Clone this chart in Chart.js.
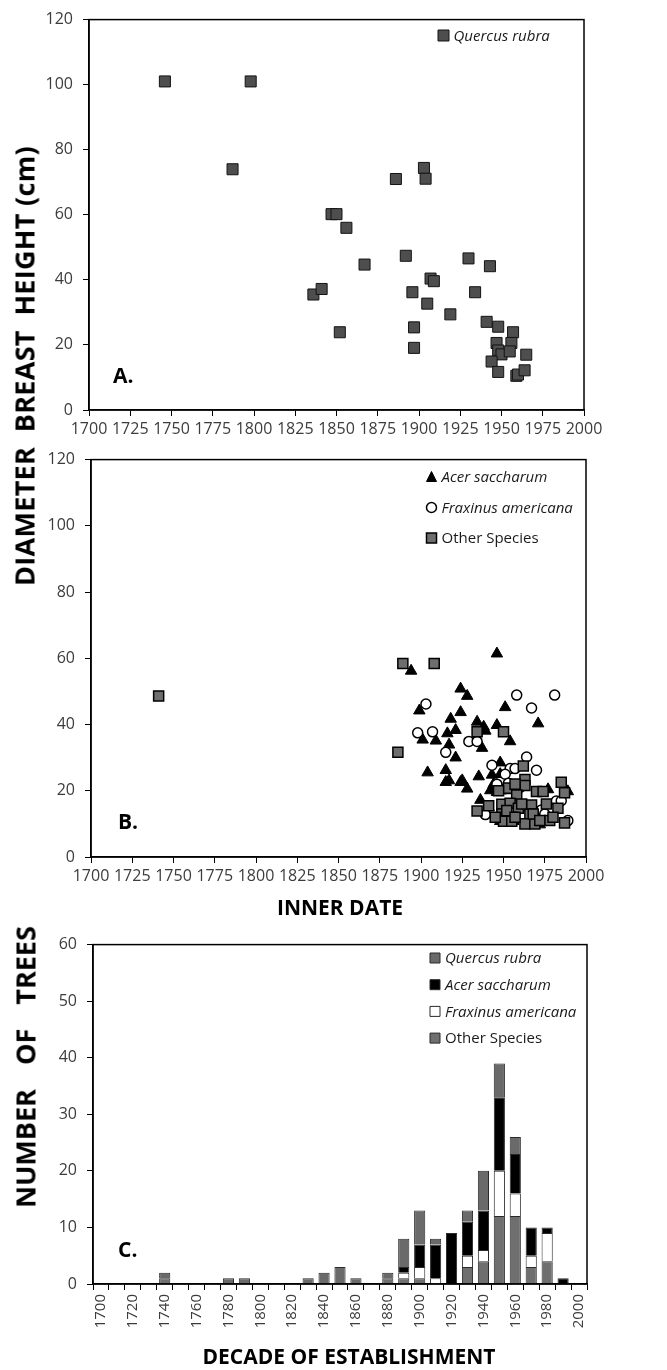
<!DOCTYPE html>
<html>
<head>
<meta charset="utf-8">
<script src="https://cdn.jsdelivr.net/npm/chart.js@4.4.0/dist/chart.umd.min.js"></script>
<style>
  body { margin: 0; background: #fff; width: 667px; height: 1370px; position: relative; overflow: hidden; font-family: "Open Sans", sans-serif; }
  canvas { position: absolute; left: 0; }
  .ttl { position: absolute; font-weight: 700; color: #000; white-space: pre; line-height: 1; transform: translate(-50%, -50%); }
  .rot { transform: translate(-50%, -50%) rotate(-90deg); }
</style>
</head>
<body>
<canvas id="chartA" width="667" height="445" style="top:0px"></canvas>
<canvas id="chartB" width="667" height="480" style="top:440px"></canvas>
<canvas id="chartC" width="667" height="445" style="top:925px"></canvas>

<div class="ttl rot" style="left:24px; top:366px; font-size:27px; letter-spacing:0.3px;">DIAMETER  BREAST  HEIGHT (cm)</div>
<div class="ttl" style="left:340px; top:907px; font-size:21px;">INNER DATE</div>
<div class="ttl rot" style="left:25px; top:1067px; font-size:27px; word-spacing:5px;">NUMBER  OF  TREES</div>
<div class="ttl" style="left:349px; top:1356px; font-size:21px;">DECADE OF ESTABLISHMENT</div>

<script>
// --- Panel A: Quercus rubra, inner date vs DBH ---
const quercusYear = [1746, 1798, 1787, 1886, 1903, 1904, 1847, 1850, 1856, 1867, 1892, 1930, 1943, 1907, 1909, 1836, 1841, 1896, 1934, 1905, 1919, 1941, 1948, 1897, 1852, 1957, 1897, 1947, 1956, 1948, 1950, 1955, 1965, 1944, 1948, 1959, 1960, 1964];
const quercusDbh = [101, 101, 74, 71, 74.4, 71.1, 60.2, 60.2, 56, 44.7, 47.4, 46.6, 44.2, 40.4, 39.6, 35.5, 37.2, 36.2, 36.2, 32.7, 29.4, 27.1, 25.6, 25.4, 23.9, 23.9, 19.1, 20.6, 20.6, 18.3, 17.1, 18, 17, 14.9, 11.7, 10.5, 10.9, 12.2];

// --- Panel B: other species ---
const acerYear = [1946, 1894, 1924, 1928, 1899, 1951, 1924, 1971, 1918, 1934, 1938, 1946, 1916, 1921, 1939, 1901, 1909, 1954, 1937, 1917, 1921, 1948, 1915, 1904, 1935, 1943, 1948, 1925, 1915, 1917, 1924, 1928, 1977, 1989, 1936, 1942, 1946, 1951, 1948, 1956, 1965, 1972, 1948, 1941, 1944, 1953, 1960, 1975];
const acerDbh = [61.4, 56.2, 50.8, 48.6, 44.2, 45.2, 43.7, 40.3, 41.7, 40.8, 39.3, 39.8, 37.3, 38.3, 38.1, 35.4, 35.1, 34.9, 32.9, 33.9, 30, 28.5, 26.2, 25.5, 24.3, 24.8, 25, 23.1, 22.6, 23.1, 22.6, 20.6, 20.4, 19.8, 17.2, 20.1, 19.6, 20.1, 10.8, 10.8, 9.8, 9.8, 12.8, 15, 22, 12, 15, 11];
const fraxYear = [1903, 1958, 1981, 1967, 1898, 1907, 1929, 1934, 1915, 1964, 1943, 1954, 1957, 1970, 1951, 1953, 1982, 1973, 1939, 1989, 1951, 1967, 1946, 1960, 1975, 1985];
const fraxDbh = [46.2, 48.9, 48.9, 45, 37.5, 37.8, 34.9, 34.9, 31.6, 30.2, 27.7, 26.7, 26.7, 26.2, 25, 22.3, 16.9, 14.2, 12.8, 11, 20.6, 15.2, 22, 21, 13, 17];
const otherYear = [1741, 1889, 1908, 1886, 1934, 1950, 1962, 1963, 1963, 1985, 1987, 1953, 1958, 1970, 1974, 1934, 1941, 1949, 1954, 1959, 1967, 1983, 1949, 1955, 1966, 1950, 1955, 1963, 1969, 1978, 1987, 1945, 1952, 1957, 1961, 1968, 1972, 1976, 1980, 1957, 1947];
const otherDbh = [48.6, 58.4, 58.4, 31.6, 37.8, 37.8, 27.5, 23.4, 21.6, 22.6, 19.4, 20.8, 18.7, 19.8, 19.8, 13.9, 15.5, 15.9, 16.2, 14.7, 15.7, 14.7, 13, 12, 13, 10.8, 10.8, 10, 10, 11, 10.3, 12, 14, 12, 16, 13, 11, 16, 12, 22, 20];

// --- Panel C: trees per decade of establishment ---
const decades = ['1700', '1710', '1720', '1730', '1740', '1750', '1760', '1770', '1780', '1790', '1800', '1810', '1820', '1830', '1840', '1850', '1860', '1870', '1880', '1890', '1900', '1910', '1920', '1930', '1940', '1950', '1960', '1970', '1980', '1990', '2000'];
const barOther    = [0, 0, 0, 0, 1, 0, 0, 0, 0, 0, 0, 0, 0, 0, 0, 0, 0, 0, 1, 1, 1, 0, 0, 3, 4, 12, 12, 3, 4, 0, 0];
const barFraxinus = [0, 0, 0, 0, 0, 0, 0, 0, 0, 0, 0, 0, 0, 0, 0, 0, 0, 0, 0, 1, 2, 1, 0, 2, 2, 8, 4, 2, 5, 0, 0];
const barAcer     = [0, 0, 0, 0, 0, 0, 0, 0, 0, 0, 0, 0, 0, 0, 0, 0, 0, 0, 0, 1, 4, 6, 9, 6, 7, 13, 7, 5, 1, 1, 0];
const barQuercus  = [0, 0, 0, 0, 1, 0, 0, 0, 1, 1, 0, 0, 0, 1, 2, 3, 1, 0, 1, 5, 6, 1, 0, 2, 7, 6, 3, 0, 0, 0, 0];

const toPoints = (xs, ys) => xs.map((x, i) => ({ x, y: ys[i] }));
const TICK_COLOR = '#3c3c3c';

// marcador de leyenda dibujado a mano
function drawMarker(ctx, style, x, y, size, fill, stroke, lw) {
    ctx.fillStyle = fill;
    ctx.strokeStyle = stroke;
    ctx.lineWidth = lw;
    ctx.beginPath();
    if (style === 'triangle') {
        const h = size * 0.9;
        ctx.moveTo(x, y - h / 2 - 1);
        ctx.lineTo(x + size / 2, y + h / 2);
        ctx.lineTo(x - size / 2, y + h / 2);
        ctx.closePath();
    } else if (style === 'circle') {
        ctx.arc(x, y, size / 2, 0, Math.PI * 2);
    } else {
        ctx.rect(x - size / 2, y - size / 2, size, size);
    }
    ctx.fill();
    if (lw > 0) ctx.stroke();
}

// marco, letra del panel y leyenda dentro del área
const panelDecor = {
    id: 'panelDecor',
    afterDraw(chart, args, opts) {
        const { ctx, chartArea: a } = chart;
        ctx.save();
        ctx.strokeStyle = '#000';
        ctx.lineWidth = 1.5;
        ctx.strokeRect(a.left, a.top, a.right - a.left, a.bottom - a.top);

        ctx.fillStyle = '#000';
        ctx.font = 'bold 21px "Open Sans"';
        ctx.textBaseline = 'alphabetic';
        ctx.textAlign = 'left';
        ctx.fillText(opts.letter, a.left + opts.letterDx, a.bottom - opts.letterDy);

        let items = chart.data.datasets.slice();
        if (opts.reverse) items.reverse();
        items.forEach((ds, i) => {
            const y = opts.legendY + i * opts.legendGap;
            drawMarker(ctx, ds.legendStyle, opts.legendX, y, ds.legendSize,
                ds.backgroundColor, ds.borderColor, ds.legendBorder);
            ctx.fillStyle = '#1a1a1a';
            ctx.font = (ds.italic ? 'italic ' : '') + '15px "Open Sans"';
            ctx.textBaseline = 'middle';
            ctx.fillText(ds.label, opts.legendX + opts.textDx, y + 1);
        });
        ctx.restore();
    }
};

function scatterScales() {
    return {
        x: {
            type: 'linear', min: 1700, max: 2000,
            afterFit: s => { s.height = 30; },
            border: { color: '#000', width: 1.5 },
            grid: { drawOnChartArea: false, drawTicks: true, tickLength: 6, color: '#000' },
            ticks: {
                stepSize: 25, autoSkip: false, maxRotation: 0, minRotation: 0,
                color: TICK_COLOR, padding: 4, font: { size: 16, family: 'Open Sans' },
                callback: v => String(v)
            }
        },
        y: {
            min: 0, max: 120,
            afterFit: s => { s.width = 50; },
            border: { color: '#000', width: 1.5 },
            grid: { drawOnChartArea: false, drawTicks: true, tickLength: 6, color: '#000' },
            ticks: { stepSize: 20, color: TICK_COLOR, padding: 10, font: { size: 16, family: 'Open Sans' } }
        }
    };
}

const baseOpts = {
    responsive: false,
    animation: false,
    events: []
};

new Chart(document.getElementById('chartA'), {
    type: 'scatter',
    data: {
        datasets: [{
            label: 'Quercus rubra', italic: true,
            data: toPoints(quercusYear, quercusDbh),
            pointStyle: 'rect', pointRadius: 7.8,
            backgroundColor: '#4e4e4e', borderColor: '#141414', borderWidth: 1,
            legendStyle: 'rect', legendSize: 11, legendBorder: 1
        }]
    },
    options: {
        ...baseOpts,
        layout: { padding: { left: 39, right: 83, top: 16, bottom: 5 } },
        scales: scatterScales(),
        plugins: {
            legend: { display: false }, tooltip: { enabled: false },
            panelDecor: { letter: 'A.', letterDx: 24, letterDy: 27, legendX: 443.5, legendY: 35.5, legendGap: 30, textDx: 10 }
        }
    },
    plugins: [panelDecor]
});

new Chart(document.getElementById('chartB'), {
    type: 'scatter',
    data: {
        datasets: [
            {
                label: 'Acer saccharum', italic: true, order: 2,
                data: toPoints(acerYear, acerDbh),
                pointStyle: 'triangle', pointRadius: 6.6,
                backgroundColor: '#000', borderColor: '#000', borderWidth: 1,
                legendStyle: 'triangle', legendSize: 10, legendBorder: 1
            },
            {
                label: 'Fraxinus americana', italic: true, order: 1,
                data: toPoints(fraxYear, fraxDbh),
                pointStyle: 'circle', pointRadius: 5,
                backgroundColor: '#fff', borderColor: '#000', borderWidth: 1.5,
                legendStyle: 'circle', legendSize: 10, legendBorder: 1.5
            },
            {
                label: 'Other Species', italic: false, order: 0,
                data: toPoints(otherYear, otherDbh),
                pointStyle: 'rect', pointRadius: 7.1,
                backgroundColor: '#6e6e6e', borderColor: '#000', borderWidth: 1.5,
                legendStyle: 'rect', legendSize: 10, legendBorder: 1.5
            }
        ]
    },
    options: {
        ...baseOpts,
        layout: { padding: { left: 41, right: 81, top: 9, bottom: 33 } },
        scales: scatterScales(),
        plugins: {
            legend: { display: false }, tooltip: { enabled: false },
            panelDecor: { letter: 'B.', letterDx: 27, letterDy: 28, legendX: 431.5, legendY: 37, legendGap: 30.5, textDx: 10 }
        }
    },
    plugins: [panelDecor]
});

const barBase = { barPercentage: 0.7, categoryPercentage: 1, borderColor: '#2a2a2a', borderWidth: c => (c.raw ? 1 : 0), legendStyle: 'rect', legendSize: 10, legendBorder: 1 };

new Chart(document.getElementById('chartC'), {
    type: 'bar',
    data: {
        labels: decades,
        datasets: [
            { ...barBase, label: 'Other Species', italic: false, data: barOther, backgroundColor: '#6f6f6f' },
            { ...barBase, label: 'Fraxinus americana', italic: true, data: barFraxinus, backgroundColor: '#fff' },
            { ...barBase, label: 'Acer saccharum', italic: true, data: barAcer, backgroundColor: '#000' },
            { ...barBase, label: 'Quercus rubra', italic: true, data: barQuercus, backgroundColor: '#6a6a6a' }
        ]
    },
    options: {
        ...baseOpts,
        layout: { padding: { left: 43, right: 80, top: 9, bottom: 36 } },
        scales: {
            x: {
                stacked: true,
                afterFit: s => { s.height = 50; },
                border: { color: '#000', width: 1.5 },
                grid: { drawOnChartArea: false, drawTicks: true, tickLength: 6, color: '#000' },
                ticks: {
                    autoSkip: false, maxRotation: 90, minRotation: 90, padding: 4,
                    color: TICK_COLOR, font: { size: 15, family: 'Open Sans' },
                    callback: (v, i) => (i % 2 === 0 ? decades[i] : '')
                }
            },
            y: {
                stacked: true, min: 0, max: 60,
                afterFit: s => { s.width = 50; },
                border: { color: '#000', width: 1.5 },
                grid: { drawOnChartArea: false, drawTicks: true, tickLength: 6, color: '#000' },
                ticks: { stepSize: 10, color: TICK_COLOR, padding: 10, font: { size: 16, family: 'Open Sans' } }
            }
        },
        plugins: {
            legend: { display: false }, tooltip: { enabled: false },
            panelDecor: { letter: 'C.', letterDx: 25, letterDy: 27, legendX: 435, legendY: 33, legendGap: 26.7, textDx: 10, reverse: true }
        }
    },
    plugins: [panelDecor]
});
</script>
</body>
</html>
